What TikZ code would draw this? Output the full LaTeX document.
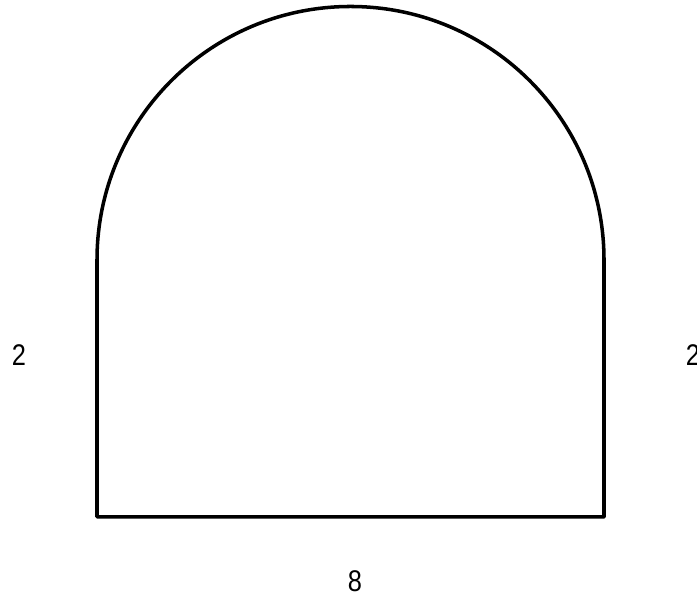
\documentclass[tikz,border=0pt]{standalone}
\usepackage{fontspec}
\setmainfont[FakeStretch=0.85]{Liberation Sans}
\usetikzlibrary{positioning}

\begin{document}
\begin{tikzpicture}
\tikzstyle{every node}=[font=\fontsize{17}{19}\selectfont]
\useasboundingbox (0,0) rectangle (13.94,11.96);
\coordinate (bl) at (1.94,1.62);
\coordinate (br) at (12.08,1.62);
\coordinate (tl) at (1.94,6.76);
\coordinate (tr) at (12.08,6.76);
\draw [line width=2pt, line join=round] (tr) -- (br) -- (bl) -- (tl) arc (180:0:5.07) -- cycle;
\node (left) at (0.38,4.86) {2};
\node (right) at (13.86,4.86) {2};
\node (bottom) at (7.1,0.34) {8};
\end{tikzpicture}
\end{document}
